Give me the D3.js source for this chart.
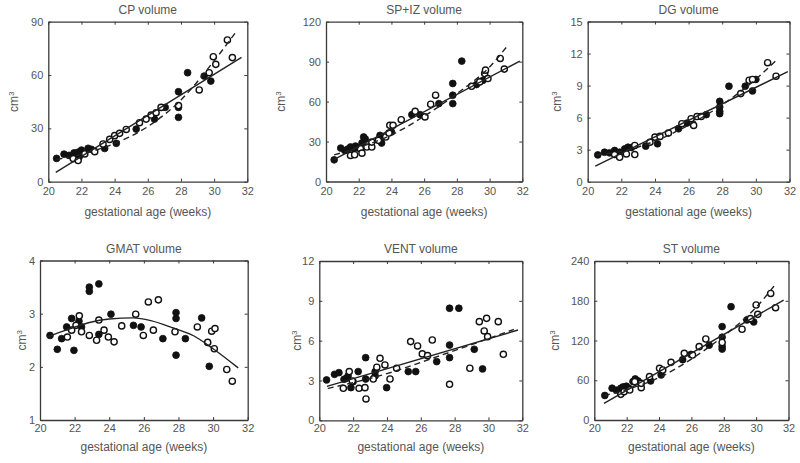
<!DOCTYPE html>
<html><head><meta charset="utf-8">
<script src="https://cdn.jsdelivr.net/npm/d3@7"></script>
<style>body{margin:0;background:#fff} text{font-family:"Liberation Sans",Arial,Helvetica,sans-serif}</style>
</head><body>
<svg id="chart" width="800" height="463"></svg>
<script>
// ---------- data ----------
const xTicks = [20, 22, 24, 26, 28, 30, 32];
const xLabel = "gestational age (weeks)";

const cpTicks = [0, 30, 60, 90];
const cpFilled = [[20.5,13.1],[20.95,15.5],[21.25,14.8],[21.55,16.2],[21.8,16.6],[21.9,15],[21.85,13.7],[22.0,17.8],[22.4,18.8],[22.6,18.2],[23.4,18.7],[24.1,21.6],[25.3,29.6],[26.4,35.2],[27.05,41.8],[27.85,50.6],[27.85,41.8],[27.85,36.2],[28.4,61.3],[29.4,59.4],[29.8,56.6]];
const cpOpen = [[21.5,13],[21.8,11.9],[22.2,15.6],[22.8,16.9],[23.3,21.2],[23.7,23.8],[24.0,25.9],[24.3,27.2],[24.7,29.4],[25.5,33.2],[25.9,35.2],[26.2,37.5],[26.5,38.8],[26.8,41.8],[27.85,42.8],[29.1,51.6],[29.7,61.3],[29.95,70.3],[30.1,66],[30.8,79.7],[31.1,69.8]];
const cpSolid = [[20.45,5.2],[31.65,69.9]];
const cpDashed = [[20.5,12.5],[22,15.5],[24,21.5],[26,31],[28,46],[30,68],[31.3,84]];

const spTicks = [0, 30, 60, 90, 120];
const spFilled = [[20.5,16.3],[20.9,25.1],[21.15,23.3],[21.35,24.4],[21.5,25.9],[21.7,24.6],[21.8,26.6],[22.0,25.1],[22.2,29],[22.3,33.4],[22.4,32],[23.3,30.9],[23.3,34.6],[23.4,28.9],[24.0,37.2],[25.25,50.2],[25.75,50.2],[26.9,58.5],[27.75,58.5],[27.75,73.6],[27.75,64.8],[28.3,90.4],[29.2,72.8],[29.6,76]];
const spOpen = [[21.5,19.6],[21.75,20.1],[22.1,24.6],[22.2,21.3],[22.5,25.9],[22.8,25.9],[22.8,29.6],[23.2,30.9],[23.65,33.4],[23.85,36.4],[23.9,42.2],[24.1,42.2],[24.6,46.4],[25.45,52.7],[26.05,48.5],[26.4,58],[26.7,64.8],[28.9,71.5],[29.4,74.8],[29.7,81.1],[29.75,83.6],[29.9,77.3],[30.65,92.4],[30.9,84.4]];
const spSolid = [[20.45,16.3],[31.85,90.4]];
const spDashed = [[20.5,20],[22,25.5],[24,35],[26,49],[28,66],[30,86],[31.1,102]];

const dgTicks = [0, 3, 6, 9, 12, 15];
const dgFilled = [[20.6,2.51],[21.0,2.76],[21.3,2.7],[21.6,2.92],[21.7,2.67],[21.9,2.76],[22.2,3.07],[22.4,3.23],[22.6,3.2],[23.45,3.33],[24.15,3.55],[25.4,4.96],[25.9,5.49],[27.05,6.28],[27.85,7.53],[27.85,7.0],[27.85,6.59],[27.85,6.37],[28.4,8.94],[29.37,8.94],[29.8,8.5],[30.0,9.57]];
const dgOpen = [[21.6,2.54],[21.9,2.29],[22.3,2.6],[22.8,3.39],[22.8,2.54],[23.7,3.7],[24.0,4.17],[24.3,4.24],[24.8,4.55],[25.6,5.43],[26.3,5.27],[26.15,5.9],[26.5,6.1],[26.75,6.1],[29.1,8.25],[29.6,9.5],[29.8,9.57],[30.7,11.14],[31.2,9.88]];
const dgSolid = [[20.45,1.45],[31.9,10.3]];
const dgDashed = [[20.5,2.5],[22,2.85],[24,3.8],[26,5.3],[28,7.2],[30,9.6],[31.3,11.5]];

const gmTicks = [1, 2, 3, 4];
const gmFilled = [[20.58,2.59],[21.0,2.33],[21.25,2.53],[21.54,2.75],[21.83,2.91],[21.96,2.31],[22.25,2.86],[22.4,2.75],[22.85,3.5],[22.85,3.42],[23.4,3.56],[23.4,2.61],[24.1,2.99],[25.4,2.78],[25.84,2.75],[27.1,2.53],[27.86,3.02],[27.86,2.91],[27.86,2.22],[28.4,2.53],[29.34,2.92],[29.78,2.01]];
const gmOpen = [[21.58,2.56],[21.83,2.69],[22.08,2.78],[22.27,2.96],[22.4,2.66],[22.85,2.59],[23.27,2.5],[23.4,2.88],[23.7,2.69],[23.95,2.56],[24.28,2.47],[24.72,2.77],[25.53,2.99],[25.97,2.59],[26.26,3.22],[26.55,2.69],[26.84,3.26],[27.8,2.66],[29.09,2.75],[29.69,2.46],[29.92,2.67],[30.11,2.72],[30.07,2.34],[30.79,1.95],[31.11,1.73]];
const gmSolid = [[20.4,2.56],[21.5,2.69],[22.8,2.83],[24,2.9],[25.4,2.92],[26.4,2.87],[27.7,2.73],[28.9,2.58],[30,2.34],[31.45,1.98]];
const gmDashed = [];

const veTicks = [0, 3, 6, 9, 12];
const veFilled = [[20.43,3.04],[20.9,3.46],[21.16,3.59],[21.46,3.09],[21.6,3.16],[21.7,3.34],[21.87,2.46],[22.0,2.91],[22.3,3.67],[22.74,4.72],[22.74,3.11],[23.3,3.34],[23.3,3.67],[23.98,2.46],[25.26,3.67],[25.7,3.67],[26.94,4.42],[27.7,8.44],[27.7,5.67],[27.7,4.72],[28.25,8.44],[29.16,5.35],[29.65,3.87]];
const veOpen = [[21.42,2.41],[21.77,3.67],[21.95,2.96],[22.35,2.41],[22.7,2.46],[22.76,1.61],[23.19,3.11],[23.4,4.0],[23.59,4.67],[23.88,4.17],[24.18,3.11],[24.57,3.92],[25.4,5.93],[25.81,5.6],[26.09,5.0],[26.4,4.87],[26.68,6.05],[27.7,2.71],[28.9,3.92],[29.46,7.43],[29.75,6.73],[29.89,7.68],[29.95,6.3],[30.58,7.43],[30.88,4.97]];
const veSolid = [[20.45,2.55],[31.75,6.8]];
const veDashed = [[20.5,2.4],[24.6,3.75],[26.3,4.5],[29,5.7],[31.5,6.85]];

const stTicks = [0, 60, 120, 180, 240];
const stFilled = [[20.65,37],[21.1,48],[21.37,45],[21.64,48],[21.78,50],[21.88,47],[21.98,51],[22.13,48],[22.39,58],[22.53,62],[22.7,59],[23.48,59],[24.13,68],[25.46,91],[25.97,99],[27.1,113],[27.9,141],[27.9,125],[27.9,111],[27.9,107],[28.45,171],[29.43,151],[29.85,148]];
const stOpen = [[21.64,38.7],[21.84,42.8],[22.19,45.3],[22.5,57.9],[22.9,48.8],[22.9,55.3],[23.41,65.4],[24.03,78],[24.23,75.5],[24.74,87],[25.56,100.6],[26.07,98.1],[26.48,110.7],[26.89,122.3],[27.9,117],[29.13,137],[29.65,153],[30.0,173.6],[30.1,159.5],[30.9,191],[31.2,169.5]];
const stSolid = [[20.6,25],[31.7,181]];
const stDashed = [[20.6,37],[22,46],[24,64],[26,92],[28,127],[30,170],[31.1,202]];

// ---------- layout ----------
const panels = [
  {title:"CP volume",   ticks:cpTicks, filled:cpFilled, open:cpOpen, solid:cpSolid, dashed:cpDashed, L:48.3, R:247.3, T:21.7, B:181.7, ylx:14,  row:0},
  {title:"SP+IZ volume",ticks:spTicks, filled:spFilled, open:spOpen, solid:spSolid, dashed:spDashed, L:326,  R:522.3, T:21.7, B:181.5, ylx:281, row:0},
  {title:"DG volume",   ticks:dgTicks, filled:dgFilled, open:dgOpen, solid:dgSolid, dashed:dgDashed, L:587.7,R:789.5, T:21.5, B:181.7, ylx:557, row:0},
  {title:"GMAT volume", ticks:gmTicks, filled:gmFilled, open:gmOpen, solid:gmSolid, dashed:gmDashed, L:40,   R:247.7, T:260.5,B:420,   ylx:22,  row:1},
  {title:"VENT volume", ticks:veTicks, filled:veFilled, open:veOpen, solid:veSolid, dashed:veDashed, L:319.3,R:522.3, T:261,  B:420.3, ylx:297, row:1},
  {title:"ST volume",   ticks:stTicks, filled:stFilled, open:stOpen, solid:stSolid, dashed:stDashed, L:594.3,R:788.5, T:261,  B:420,   ylx:555, row:1}
];
const rowText = [
  {titleY:14,  tickPad:6, xlabY:216},
  {titleY:253, tickPad:4, xlabY:451}
];

const svg = d3.select("#chart");
const textCol = "#555";
const axisCol = "#3a3a3a";

panels.forEach(p => {
  const rt = rowText[p.row];
  const x = d3.scaleLinear().domain([20, 32]).range([p.L, p.R]);
  const y = d3.scaleLinear().domain([p.ticks[0], p.ticks[p.ticks.length-1]]).range([p.B, p.T]);
  const g = svg.append("g");

  const clipId = "clip" + p.title.replace(/[^A-Za-z]/g, "");
  svg.append("clipPath").attr("id", clipId).append("rect")
    .attr("x", p.L).attr("y", p.T).attr("width", p.R - p.L).attr("height", p.B - p.T);

  const styleAxis = (sel, showLabels) => {
    sel.select(".domain").attr("stroke", axisCol).attr("stroke-width", 1.3);
    sel.selectAll(".tick line").attr("stroke", axisCol).attr("stroke-width", 1);
    sel.selectAll(".tick text").attr("fill", textCol).style("font-size", "11px")
      .style("font-family", '"Liberation Sans",Arial,sans-serif');
    if (!showLabels) sel.selectAll(".tick text").remove();
  };
  const fmt = d3.format("d");
  g.append("g").attr("transform", `translate(0,${p.B})`)
    .call(d3.axisBottom(x).tickValues(xTicks).tickFormat(fmt).tickSizeInner(-3).tickSizeOuter(0).tickPadding(rt.tickPad))
    .call(s => styleAxis(s, true));
  g.append("g").attr("transform", `translate(0,${p.T})`)
    .call(d3.axisTop(x).tickValues(xTicks).tickSizeInner(-3).tickSizeOuter(0))
    .call(s => styleAxis(s, false));
  g.append("g").attr("transform", `translate(${p.L},0)`)
    .call(d3.axisLeft(y).tickValues(p.ticks).tickFormat(fmt).tickSizeInner(-3).tickSizeOuter(0).tickPadding(5))
    .call(s => styleAxis(s, true));
  g.append("g").attr("transform", `translate(${p.R},0)`)
    .call(d3.axisRight(y).tickValues(p.ticks).tickSizeInner(-3).tickSizeOuter(0))
    .call(s => styleAxis(s, false));

  g.append("text").attr("x", (p.L + p.R) / 2).attr("y", rt.titleY)
    .attr("text-anchor", "middle").attr("fill", textCol).style("font-size", "12px").text(p.title);
  g.append("text").attr("x", (p.L + p.R) / 2).attr("y", rt.xlabY)
    .attr("text-anchor", "middle").attr("fill", textCol).style("font-size", "12px").text(xLabel);
  const yl = g.append("text")
    .attr("transform", `translate(${p.ylx + 4},${(p.T + p.B) / 2}) rotate(-90)`)
    .attr("text-anchor", "middle").attr("fill", textCol).style("font-size", "12px");
  yl.append("tspan").text("cm");
  yl.append("tspan").attr("dy", "-0.45em").style("font-size", "8px").text("3");

  const pts = g.append("g").attr("clip-path", `url(#${clipId})`);
  pts.selectAll("circle.f").data(p.filled).join("circle").attr("class", "f")
    .attr("cx", d => x(d[0])).attr("cy", d => y(d[1])).attr("r", 3.4)
    .attr("fill", "#111").attr("stroke", "#111").attr("stroke-width", 0.8);
  pts.selectAll("circle.o").data(p.open).join("circle").attr("class", "o")
    .attr("cx", d => x(d[0])).attr("cy", d => y(d[1])).attr("r", 3.1)
    .attr("fill", "#fff").attr("stroke", "#111").attr("stroke-width", 1.4);

  const line = d3.line().x(d => x(d[0])).y(d => y(d[1])).curve(d3.curveMonotoneX);
  pts.append("path").datum(p.solid).attr("d", line)
    .attr("fill", "none").attr("stroke", "#222").attr("stroke-width", 1.4);
  if (p.dashed.length) {
    pts.append("path").datum(p.dashed).attr("d", line)
      .attr("fill", "none").attr("stroke", "#222").attr("stroke-width", 1.4)
      .attr("stroke-dasharray", "6,4");
  }
});
</script>
</body></html>
